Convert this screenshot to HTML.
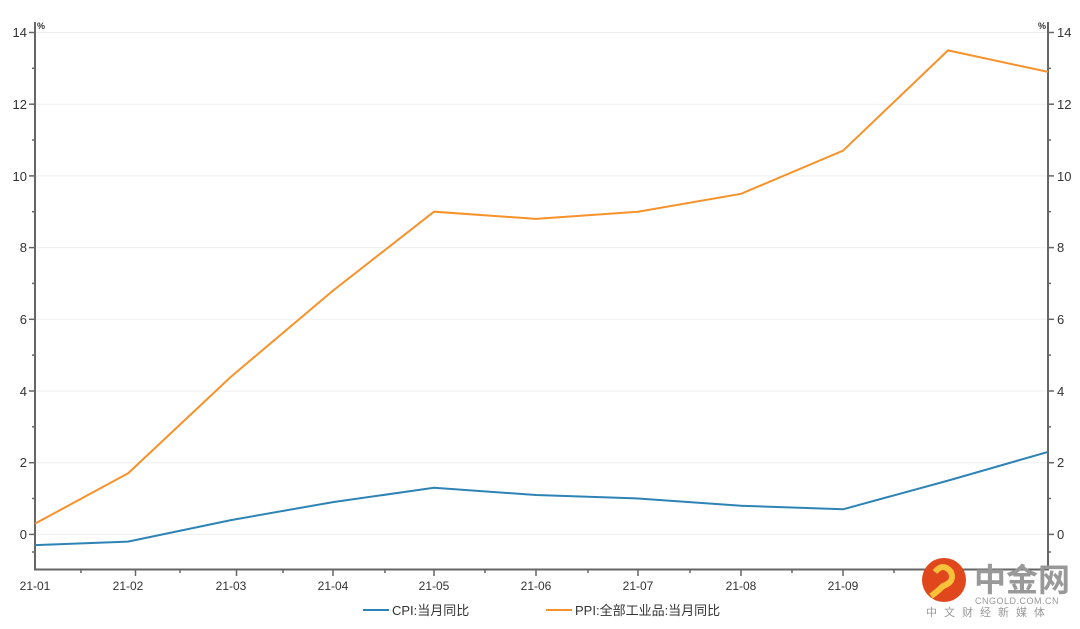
<!DOCTYPE html>
<html><head><meta charset="utf-8"><style>
html,body{margin:0;padding:0;background:#fff;width:1080px;height:629px;overflow:hidden}
svg{display:block;font-family:"Liberation Sans","Noto Sans CJK SC",sans-serif}
</style></head><body>
<svg width="1080" height="629" viewBox="0 0 1080 629">
<g stroke="#efefef" stroke-width="1">
<line x1="35" x2="1048" y1="32.5" y2="32.5"/>
<line x1="35" x2="1048" y1="104.2" y2="104.2"/>
<line x1="35" x2="1048" y1="175.9" y2="175.9"/>
<line x1="35" x2="1048" y1="247.6" y2="247.6"/>
<line x1="35" x2="1048" y1="319.3" y2="319.3"/>
<line x1="35" x2="1048" y1="391" y2="391"/>
<line x1="35" x2="1048" y1="462.7" y2="462.7"/>
<line x1="35" x2="1048" y1="534.4" y2="534.4"/>
</g>
<g stroke="#666" stroke-width="2" fill="none">
<line x1="35" y1="22" x2="35" y2="570"/>
<line x1="1048" y1="22" x2="1048" y2="570"/>
<line x1="34" y1="569.5" x2="1049" y2="569.5"/>
</g>
<g stroke="#666" stroke-width="1.5" id="lt">
<line x1="29" x2="35" y1="32.5" y2="32.5"/><line x1="32" x2="35" y1="68.3" y2="68.3"/>
<line x1="29" x2="35" y1="104.2" y2="104.2"/><line x1="32" x2="35" y1="140" y2="140"/>
<line x1="29" x2="35" y1="175.9" y2="175.9"/><line x1="32" x2="35" y1="211.7" y2="211.7"/>
<line x1="29" x2="35" y1="247.6" y2="247.6"/><line x1="32" x2="35" y1="283.4" y2="283.4"/>
<line x1="29" x2="35" y1="319.3" y2="319.3"/><line x1="32" x2="35" y1="355.1" y2="355.1"/>
<line x1="29" x2="35" y1="391" y2="391"/><line x1="32" x2="35" y1="426.8" y2="426.8"/>
<line x1="29" x2="35" y1="462.7" y2="462.7"/><line x1="32" x2="35" y1="498.5" y2="498.5"/>
<line x1="29" x2="35" y1="534.4" y2="534.4"/><line x1="32" x2="35" y1="552" y2="552"/>
</g>
<g stroke="#666" stroke-width="1.5">
<line x1="1048" x2="1054" y1="32.5" y2="32.5"/><line x1="1048" x2="1051" y1="68.3" y2="68.3"/>
<line x1="1048" x2="1054" y1="104.2" y2="104.2"/><line x1="1048" x2="1051" y1="140" y2="140"/>
<line x1="1048" x2="1054" y1="175.9" y2="175.9"/><line x1="1048" x2="1051" y1="211.7" y2="211.7"/>
<line x1="1048" x2="1054" y1="247.6" y2="247.6"/><line x1="1048" x2="1051" y1="283.4" y2="283.4"/>
<line x1="1048" x2="1054" y1="319.3" y2="319.3"/><line x1="1048" x2="1051" y1="355.1" y2="355.1"/>
<line x1="1048" x2="1054" y1="391" y2="391"/><line x1="1048" x2="1051" y1="426.8" y2="426.8"/>
<line x1="1048" x2="1054" y1="462.7" y2="462.7"/><line x1="1048" x2="1051" y1="498.5" y2="498.5"/>
<line x1="1048" x2="1054" y1="534.4" y2="534.4"/><line x1="1048" x2="1051" y1="552" y2="552"/>
</g>
<g stroke="#666" stroke-width="1.5">
<line x1="135.5" x2="135.5" y1="570" y2="576"/><line x1="236.5" x2="236.5" y1="570" y2="576"/>
<line x1="333" x2="333" y1="570" y2="576"/><line x1="434" x2="434" y1="570" y2="576"/>
<line x1="536" x2="536" y1="570" y2="576"/><line x1="638" x2="638" y1="570" y2="576"/>
<line x1="741" x2="741" y1="570" y2="576"/><line x1="843" x2="843" y1="570" y2="576"/>
<line x1="945" x2="945" y1="570" y2="576"/>
<line x1="81" x2="81" y1="570" y2="573"/><line x1="180" x2="180" y1="570" y2="573"/>
<line x1="283" x2="283" y1="570" y2="573"/><line x1="385" x2="385" y1="570" y2="573"/>
<line x1="485" x2="485" y1="570" y2="573"/><line x1="588" x2="588" y1="570" y2="573"/>
<line x1="690" x2="690" y1="570" y2="573"/><line x1="792" x2="792" y1="570" y2="573"/>
<line x1="894" x2="894" y1="570" y2="573"/><line x1="996" x2="996" y1="570" y2="573"/>
</g>
<g font-size="13" fill="#333" text-anchor="end">
<text x="27" y="37">14</text><text x="27" y="109">12</text><text x="27" y="181">10</text>
<text x="27" y="252">8</text><text x="27" y="324">6</text><text x="27" y="396">4</text>
<text x="27" y="467">2</text><text x="27" y="539">0</text>
</g>
<g font-size="13" fill="#333">
<text x="1057" y="37">14</text><text x="1057" y="109">12</text><text x="1057" y="181">10</text>
<text x="1057" y="252">8</text><text x="1057" y="324">6</text><text x="1057" y="396">4</text>
<text x="1057" y="467">2</text><text x="1057" y="539">0</text>
</g>
<text x="37" y="29" font-size="9" font-weight="bold" fill="#333">%</text>
<text x="1038" y="29" font-size="9" font-weight="bold" fill="#333">%</text>
<g font-size="12" fill="#333" text-anchor="middle">
<text x="35" y="590">21-01</text><text x="128" y="590">21-02</text><text x="231" y="590">21-03</text>
<text x="333" y="590">21-04</text><text x="434" y="590">21-05</text><text x="536" y="590">21-06</text>
<text x="638" y="590">21-07</text><text x="741" y="590">21-08</text><text x="843" y="590">21-09</text>
</g>
<polyline fill="none" stroke="#f7922a" stroke-width="2" points="35,523.6 128,473.4 231,376.7 333,290.6 434,211.7 536,218.9 638,211.7 741,193.8 843,150.7 948,50.4 1048,71.9"/>
<polyline fill="none" stroke="#2e83b5" stroke-width="2" points="35,545.1 128,541.6 231,520.1 333,502.1 434,487.8 536,495 638,498.5 741,505.7 843,509.3 948,480.6 1048,451.9"/>
<line x1="363" x2="389" y1="610" y2="610" stroke="#2e83b5" stroke-width="2"/>
<text x="392" y="615" font-size="13" fill="#333">CPI:当月同比</text>
<line x1="546" x2="572" y1="610" y2="610" stroke="#f7922a" stroke-width="2"/>
<text x="575" y="615" font-size="13" fill="#333">PPI:全部工业品:当月同比</text>
<circle cx="944" cy="580" r="22" fill="#e0471c"/>
<path d="M935,572 q8,-10 16,0 q4,10 -8,14 q-6,6 -12,10" stroke="#f7c23a" stroke-width="6" fill="none"/>
<text x="974" y="591" font-size="32" font-weight="bold" fill="#999">中金网</text>
<text x="975" y="604" font-size="9" fill="#999" letter-spacing="0.5">CNGOLD.COM.CN</text>
<text x="926" y="616" font-size="11" fill="#999" letter-spacing="7">中文财经新媒体</text>
</svg>
</body></html>
